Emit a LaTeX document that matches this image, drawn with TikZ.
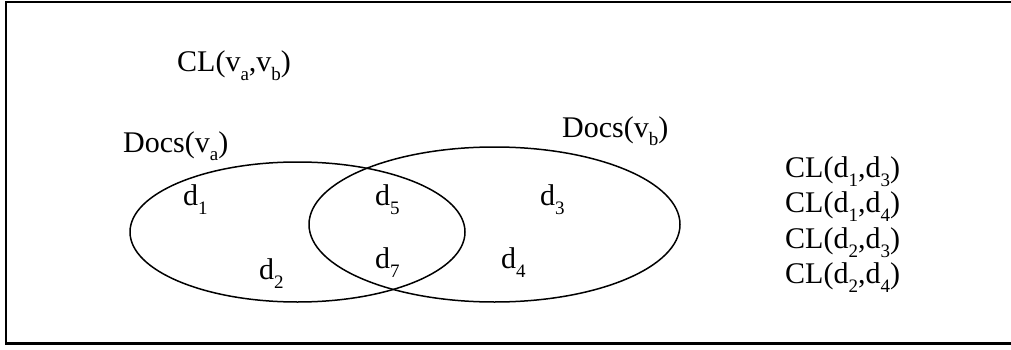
\documentclass[tikz,border=0pt]{standalone}
\usepackage{fontspec}
\setmainfont{Liberation Serif}
\newcommand\lowsub[1]{\raisebox{-9pt}{\fontsize{19}{19}\selectfont #1}}
\begin{document}
\begin{tikzpicture}[x=1pt,y=-1pt,
  lbl/.style={anchor=base west,inner sep=0pt,font=\fontsize{30}{36}\selectfont},
  frameline/.style={line width=2.4pt},
  setline/.style={line width=1.5pt}]
\useasboundingbox (0,0) rectangle (1011,350);
% frame (top, left, bottom)
\draw[frameline] (1011,2) -- (6,2) -- (6,343.5) -- (1011,343.5);
% sets
\draw[setline] (297.5,232) ellipse [x radius=167.5, y radius=70];
\draw[setline] (494.5,224.5) ellipse [x radius=185.5, y radius=77.5];
% labels
\node[lbl] (clvv) at (177,72) {CL(v\lowsub{a},v\lowsub{b})};
\node[lbl] (docsa) at (123,152) {Docs(v\lowsub{a})};
\node[lbl] (docsb) at (562,137) {Docs(v\lowsub{b})};
\node[lbl] (d1) at (183,205) {d\lowsub{1}};
\node[lbl] (d2) at (259,279) {d\lowsub{2}};
\node[lbl] (d5) at (375,205) {d\lowsub{5}};
\node[lbl] (d7) at (375,268) {d\lowsub{7}};
\node[lbl] (d3) at (540,205) {d\lowsub{3}};
\node[lbl] (d4) at (501,268) {d\lowsub{4}};
\node[lbl] (c13) at (785,177) {CL(d\lowsub{1},d\lowsub{3})};
\node[lbl] (c14) at (785,212) {CL(d\lowsub{1},d\lowsub{4})};
\node[lbl] (c23) at (785,248) {CL(d\lowsub{2},d\lowsub{3})};
\node[lbl] (c24) at (785,283) {CL(d\lowsub{2},d\lowsub{4})};
\end{tikzpicture}
\end{document}
